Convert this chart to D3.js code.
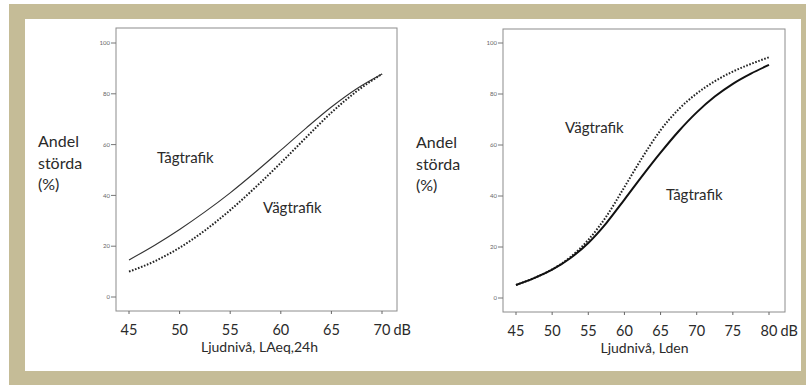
<!DOCTYPE html>
<html lang="sv">
<head>
<meta charset="UTF-8">
<title>Andel störda – tåg- och vägtrafik</title>
<script src="https://d3js.org/d3.v7.min.js"></script>
<style>
  body { margin: 0; padding: 0; background: #fff; }
  svg { display: block; font-family: Lato, "Open Sans", sans-serif; }
  .ytick text { font-size: 6px; fill: #666; }
  .xtick text { font-size: 14.5px; fill: #2a2a2a; }
  .lbl { font-size: 15px; fill: #2a2a2a; }
</style>
</head>
<body>
<svg id="chart" width="806" height="385"></svg>
<script>
// vänster diagram: LAeq,24h
const leftDb = [45, 47.5, 50, 52.5, 55, 57.5, 60, 62.5, 65, 67.5, 70];
const leftTag = [14.6, 20.3, 26.6, 33.5, 41.0, 49.2, 57.8, 66.5, 74.8, 82.0, 87.8];
const leftVag = [10.0, 14.0, 19.4, 26.2, 34.2, 43.2, 52.8, 62.8, 72.6, 81.0, 87.8];
const leftTicksX = [45, 50, 55, 60, 65, 70];

// höger diagram: Lden
const rightDb = [45, 47.5, 50, 52.5, 55, 57.5, 60, 62.5, 65, 67.5, 70, 72.5, 75, 77.5, 80];
const rightTag = [5.1, 7.8, 11.1, 15.6, 21.6, 29.4, 38.6, 48.0, 57.0, 65.4, 72.8, 79.0, 84.0, 88.0, 91.4];
const rightVag = [5.1, 7.8, 11.2, 16.0, 22.8, 32.0, 43.5, 55.2, 65.8, 74.0, 80.2, 85.0, 88.8, 91.8, 94.4];
const rightTicksX = [45, 50, 55, 60, 65, 70, 75, 80];

const ticksY = [0, 20, 40, 60, 80, 100];
const yTitle = ["Andel", "störda", "(%)"];

const svg = d3.select("#chart");

// ram
svg.append("rect").attr("x", 9).attr("y", 4).attr("width", 797).attr("height", 381).attr("fill", "#c5bc97");
svg.append("rect").attr("x", 25).attr("y", 19).attr("width", 776).attr("height", 352).attr("fill", "#fff");

function panel(o) {
  const x = d3.scaleLinear().domain(o.xDomain).range(o.xRange);
  const y = d3.scaleLinear().domain([0, 100]).range(o.yRange);
  const g = svg.append("g");

  g.append("rect")
    .attr("x", o.frame[0]).attr("y", o.frame[1])
    .attr("width", o.frame[2] - o.frame[0]).attr("height", o.frame[3] - o.frame[1])
    .attr("fill", "none").attr("stroke", "#8c8c8c").attr("stroke-width", 1);

  // y-axel
  const yt = g.selectAll(".ytick").data(ticksY).enter().append("g")
    .attr("class", "ytick")
    .attr("transform", d => `translate(${o.frame[0]},${y(d)})`);
  yt.append("line").attr("x1", -5).attr("x2", 0).attr("stroke", "#777");
  yt.append("text").attr("x", -6).attr("dy", "0.35em").attr("text-anchor", "end").text(d => d);

  // x-axel
  const xt = g.selectAll(".xtick").data(o.ticksX).enter().append("g")
    .attr("class", "xtick")
    .attr("transform", d => `translate(${x(d)},${o.frame[3]})`);
  xt.append("line").attr("y1", 0).attr("y2", 3).attr("stroke", "#666");
  xt.append("text").attr("y", 24).attr("text-anchor", "middle").text(d => d);
  const last = xt.filter((d, i) => i === o.ticksX.length - 1).select("text");
  const w = last.node().getComputedTextLength();
  g.append("text").attr("class", "xtick-unit")
    .attr("x", x(o.ticksX[o.ticksX.length - 1]) + w / 2 + 3)
    .attr("y", o.frame[3] + 24)
    .style("font-size", "14.5px").style("fill", "#2a2a2a")
    .text("dB");

  g.append("text").attr("class", "lbl")
    .attr("x", (x(o.ticksX[0]) + x(o.ticksX[o.ticksX.length - 1])) / 2 + o.titleShift)
    .attr("y", o.frame[3] + 41)
    .attr("text-anchor", "middle").style("font-size", "14px")
    .text(o.xTitle);

  // y-titel
  g.selectAll(".ytitle").data(yTitle).enter().append("text")
    .attr("class", "lbl")
    .style("font-size", "16px")
    .attr("x", o.yTitleX)
    .attr("y", (d, i) => o.yTitleY + i * 21.5)
    .text(d => d);

  const line = d3.line().x(d => x(d[0])).y(d => y(d[1])).curve(d3.curveMonotoneX);

  g.append("path")
    .datum(o.db.map((d, i) => [d, o.vag[i]]))
    .attr("d", line).attr("fill", "none")
    .attr("stroke", "#222").attr("stroke-width", 2).attr("stroke-dasharray", "1.6,1.6");

  g.append("path")
    .datum(o.db.map((d, i) => [d, o.tag[i]]))
    .attr("d", line).attr("fill", "none")
    .attr("stroke", o.solidColor).attr("stroke-width", o.solidWidth);

  g.selectAll(".ann").data(o.labels).enter().append("text")
    .attr("class", "lbl")
    .attr("x", d => x(d.x)).attr("y", d => y(d.y))
    .text(d => d.text);
}

panel({
  xDomain: [45, 70], xRange: [129, 382], yRange: [297, 43],
  frame: [116, 28, 397, 311],
  ticksX: leftTicksX, db: leftDb, tag: leftTag, vag: leftVag,
  solidColor: "#333", solidWidth: 1.1,
  xTitle: "Ljudnivå, LAeq,24h", titleShift: 4,
  yTitleX: 38, yTitleY: 147,
  labels: [{ text: "Tågtrafik", x: 47.77, y: 52.8 }, { text: "Vägtrafik", x: 58.24, y: 33.1 }]
});

panel({
  xDomain: [45, 80], xRange: [516, 769], yRange: [298, 43],
  frame: [503, 29, 785, 312],
  ticksX: rightTicksX, db: rightDb, tag: rightTag, vag: rightVag,
  solidColor: "#111", solidWidth: 2,
  xTitle: "Ljudnivå, Lden", titleShift: 2,
  yTitleX: 416, yTitleY: 148,
  labels: [{ text: "Vägtrafik", x: 51.78, y: 64.7 }, { text: "Tågtrafik", x: 65.75, y: 38.4 }]
});
</script>
</body>
</html>
